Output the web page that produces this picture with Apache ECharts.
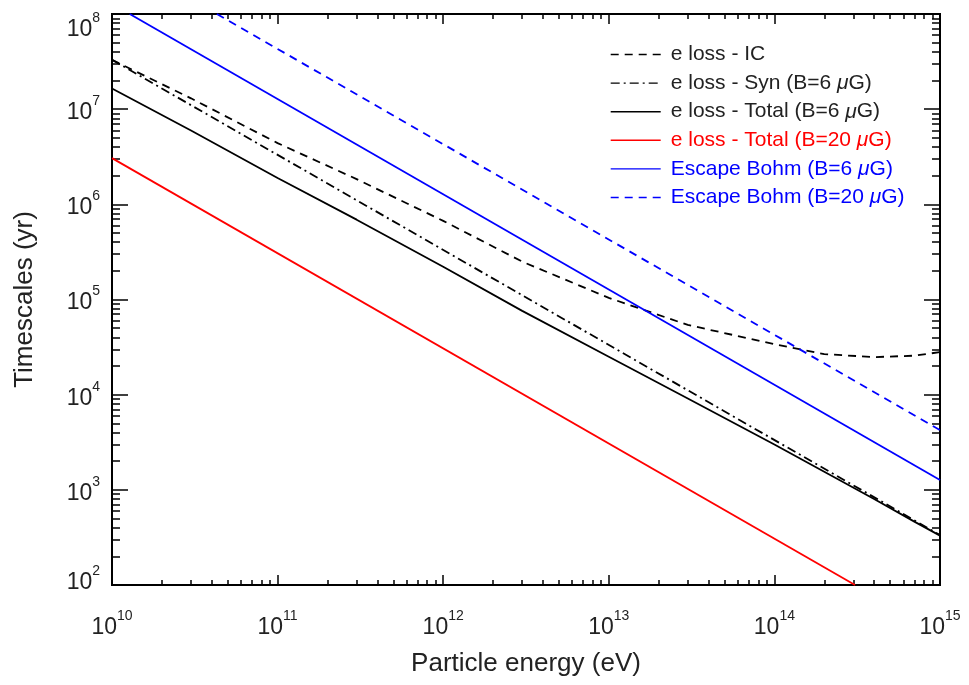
<!DOCTYPE html>
<html>
<head>
<meta charset="utf-8">
<script src="https://cdn.jsdelivr.net/npm/echarts@6/dist/echarts.min.js"></script>
<style>
  html, body { margin: 0; padding: 0; background: #fff; }
  #chart { width: 969px; height: 685px; }
</style>
</head>
<body>
<div id="chart"></div>
<script>
// Tick exponents (labels are 10^n).
const xTickExp = [10, 11, 12, 13, 14, 15];
const yTickExp = [2, 3, 4, 5, 6, 7, 8];

// Energies (eV) and timescales (yr).
const icEnergy = [1e10, 3e10, 1e11, 3e11, 1e12, 3e12, 1e13, 3e13, 1e14, 2e14, 4e14, 7e14, 1e15];
const icTime = [3.3e7, 1.3e7, 4.4e6, 1.84e6, 6.7e5, 2.5e5, 1.04e5, 5.4e4, 3.4e4, 2.67e4, 2.48e4, 2.57e4, 2.8e4];

const synEnergy = [1e10, 1e15];
const synTime = [3.3e7, 335];

const tot6Energy = [1e10, 3e10, 1e11, 3e11, 1e12, 3e12, 1e13, 3e13, 1e14, 2e14, 4e14, 7e14, 1e15];
const tot6Time = [1.65e7, 5.96e6, 1.89e6, 6.9e5, 2.21e5, 7.6e4, 2.5e4, 9.1e3, 3.0e3, 1.55e3, 800, 463, 330];

const tot20Energy = [1e10, 3.07e14];
const tot20Time = [3.06e6, 100];

const bohm6Energy = [1.28e10, 1e15];
const bohm6Time = [1e8, 1.27e3];

const bohm20Energy = [4.3e10, 1e15];
const bohm20Time = [1e8, 4.25e3];

const FONT = 'Liberation Sans';

// Axes are drawn in log10 space.
const toLog = (xs, ys) => xs.map((x, i) => [Math.log10(x), Math.log10(ys[i])]);

const minorTicks = (lo, hi) => {
  const out = [];
  for (let n = lo; n < hi; n++) {
    for (let k = 2; k <= 9; k++) out.push(n + Math.log10(k));
  }
  return out;
};

const xMin = xTickExp[0], xMax = xTickExp[xTickExp.length - 1];
const yMin = yTickExp[0], yMax = yTickExp[yTickExp.length - 1];

const expRich = {
  b: { fontFamily: FONT, fontSize: 23, color: '#222', lineHeight: 30, verticalAlign: 'bottom' },
  s: { fontFamily: FONT, fontSize: 14, color: '#222', lineHeight: 16, verticalAlign: 'top' }
};
const expText = (v) => '{b|10}{s|' + Math.round(v) + '}';

const line = { lineStyle: { color: '#000', width: 2 } };
const tickStyle = { color: '#000', width: 1.5 };

const xAxisBase = { type: 'value', min: xMin, max: xMax, splitLine: { show: false }, axisLine: line };
const yAxisBase = { type: 'value', min: yMin, max: yMax, splitLine: { show: false }, axisLine: line };

// Legend names with an italic mu.
const legendNames = [
  'e loss - IC',
  'e loss - Syn (B=6 μG)',
  'e loss - Total (B=6 μG)',
  'e loss - Total (B=20 μG)',
  'Escape Bohm (B=6 μG)',
  'Escape Bohm (B=20 μG)'
];
const legendColors = ['#222', '#222', '#222', '#ff0000', '#0000ff', '#0000ff'];

const option = {
  animation: false,
  backgroundColor: '#fff',
  grid: { left: 112, right: 29, top: 14, bottom: 100, outerBoundsMode: 'none' },
  xAxis: [
    Object.assign({}, xAxisBase, {
      position: 'bottom',
      interval: 1,
      axisTick: { inside: true, length: 10, lineStyle: tickStyle },
      axisLabel: { margin: 24, formatter: expText, rich: expRich },
      name: 'Particle energy (eV)',
      nameLocation: 'middle',
      nameGap: 66,
      nameTextStyle: { fontFamily: FONT, fontSize: 26, color: '#222' }
    }),
    Object.assign({}, xAxisBase, {
      position: 'bottom',
      axisTick: { inside: true, length: 5, customValues: minorTicks(xMin, xMax), lineStyle: tickStyle },
      axisLabel: { show: false }
    }),
    Object.assign({}, xAxisBase, {
      position: 'top',
      interval: 1,
      axisTick: { inside: true, length: 10, lineStyle: tickStyle },
      axisLabel: { show: false }
    }),
    Object.assign({}, xAxisBase, {
      position: 'top',
      axisTick: { inside: true, length: 5, customValues: minorTicks(xMin, xMax), lineStyle: tickStyle },
      axisLabel: { show: false }
    })
  ],
  yAxis: [
    Object.assign({}, yAxisBase, {
      position: 'left',
      interval: 1,
      axisTick: { inside: true, length: 16, lineStyle: tickStyle },
      axisLabel: {
        margin: 12,
        rich: expRich,
        // end labels are nudged inside the axis span
        formatter: (v) => {
          if (v === yMax) return '\n\n' + expText(v);
          if (v === yMin) return expText(v) + '\n';
          return expText(v);
        }
      },
      name: 'Timescales (yr)',
      nameLocation: 'middle',
      nameGap: 74,
      nameTextStyle: { fontFamily: FONT, fontSize: 26, color: '#222' }
    }),
    Object.assign({}, yAxisBase, {
      position: 'left',
      axisTick: { inside: true, length: 8, customValues: minorTicks(yMin, yMax), lineStyle: tickStyle },
      axisLabel: { show: false }
    }),
    Object.assign({}, yAxisBase, {
      position: 'right',
      interval: 1,
      axisTick: { inside: true, length: 16, lineStyle: tickStyle },
      axisLabel: { show: false }
    }),
    Object.assign({}, yAxisBase, {
      position: 'right',
      axisTick: { inside: true, length: 8, customValues: minorTicks(yMin, yMax), lineStyle: tickStyle },
      axisLabel: { show: false }
    })
  ],
  legend: {
    orient: 'vertical',
    left: 610,
    top: 44,
    padding: 0,
    itemWidth: 50,
    itemHeight: 14,
    itemGap: 7.6,
    itemStyle: { opacity: 0 },
    lineStyle: { width: 1.4 },
    textStyle: { fontFamily: FONT, fontSize: 21, lineHeight: 21, padding: [0, 0, 0, 5] },
    formatter: (name) => name.replace('μ', '{i|μ}'),
    data: legendNames.map((name, i) => ({
      name: name,
      textStyle: {
        color: legendColors[i],
        rich: { i: { fontFamily: FONT, fontSize: 21, fontStyle: 'italic', color: legendColors[i] } }
      }
    }))
  },
  series: [
    { name: legendNames[0], color: '#000', data: toLog(icEnergy, icTime), lineStyle: { type: [8, 6] } },
    { name: legendNames[1], color: '#000', data: toLog(synEnergy, synTime), lineStyle: { type: [9, 4, 2, 4] } },
    { name: legendNames[2], color: '#000', data: toLog(tot6Energy, tot6Time), lineStyle: { type: 'solid' } },
    { name: legendNames[3], color: '#ff0000', data: toLog(tot20Energy, tot20Time), lineStyle: { type: 'solid' } },
    { name: legendNames[4], color: '#0000ff', data: toLog(bohm6Energy, bohm6Time), lineStyle: { type: 'solid' } },
    { name: legendNames[5], color: '#0000ff', data: toLog(bohm20Energy, bohm20Time), lineStyle: { type: [8, 6] } }
  ].map((s) => Object.assign({
    type: 'line',
    xAxisIndex: 0,
    yAxisIndex: 0,
    showSymbol: false,
    symbol: 'none',
    clip: true
  }, s, { lineStyle: Object.assign({ width: 1.8 }, s.lineStyle) }))
};

const chart = echarts.init(document.getElementById('chart'), null, { renderer: 'canvas' });
chart.setOption(option);
</script>
</body>
</html>
